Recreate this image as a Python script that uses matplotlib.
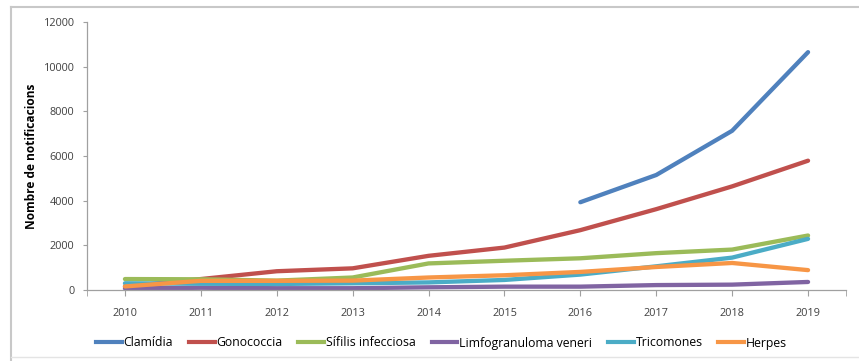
import numpy as np
import matplotlib.pyplot as plt
from matplotlib.lines import Line2D

# ____________________________________________________________
# data

years = [2010, 2011, 2012, 2013, 2014, 2015, 2016, 2017, 2018, 2019]
clamidia = [np.nan, np.nan, np.nan, np.nan, np.nan, np.nan, 3930, 5150, 7130, 10650]
gonococcia = [150, 490, 840, 970, 1530, 1900, 2680, 3620, 4640, 5790]
sifilis = [490, 480, 420, 560, 1190, 1310, 1420, 1650, 1810, 2440]
limfogranuloma = [70, 100, 80, 80, 120, 150, 150, 220, 240, 360]
tricomones = [300, 280, 270, 300, 340, 450, 690, 1060, 1450, 2290]
herpes = [160, 410, 410, 420, 560, 660, 810, 1030, 1210, 890]

labels = ['Clamídia', 'Gonococcia', 'Sífilis infecciosa',
          'Limfogranuloma veneri', 'Tricomones', 'Herpes']
colors = ['#4F81BD', '#C0504D', '#9BBB59', '#8064A2', '#4BACC6', '#F79646']
series = [clamidia, gonococcia, sifilis, limfogranuloma, tricomones, herpes]

# ____________________________________________________________
# plot

plt.rcParams['font.family'] = ['Open Sans', 'DejaVu Sans']

fig = plt.figure(figsize=(8.59, 3.61), dpi=100)
ax = fig.add_axes([87 / 859, 1 - 290 / 361, (846 - 87) / 859, (290 - 22) / 361])

for vals, col in zip(series, colors):
    ax.plot(years, vals, color=col, lw=3.1, solid_capstyle='round', solid_joinstyle='round')

ax.set_xlim(2009.5, 2019.5)
ax.set_ylim(0, 12000)
ax.set_xticks(years)
ax.set_xticks([2009.5, 2019.5], minor=True)
ax.set_yticks(range(0, 12001, 2000))
ax.tick_params(axis='both', labelsize=7.8, colors='#404040', length=3, width=0.8)
ax.tick_params(axis='x', which='both', length=4, color='#a0a0a0', pad=9)
ax.tick_params(axis='y', color='#a0a0a0', pad=6)

for s in ['top', 'right']:
    ax.spines[s].set_visible(False)
for s in ['left', 'bottom']:
    ax.spines[s].set_color('#a0a0a0')
    ax.spines[s].set_linewidth(0.9)

ax.set_ylabel('Nombre de notificacions', fontsize=8.6, fontweight='bold', labelpad=4)

handles = [Line2D([0], [0], color=c, lw=3) for c in colors]
fig.legend(handles, labels, loc='center left', bbox_to_anchor=(96 / 859, 1 - 343 / 361), ncol=6,
           frameon=False, fontsize=8.8, handlelength=2.1, handletextpad=0.15, columnspacing=1.3,
           borderaxespad=0, borderpad=0)

# outer frame of the chart
fig.add_artist(Line2D([11 / 859, 1], [1 - 7 / 361, 1 - 7 / 361], color='#c8c8c8', lw=1.5))
fig.add_artist(Line2D([11 / 859, 11 / 859], [0, 1 - 7 / 361], color='#c8c8c8', lw=1.5))
fig.add_artist(Line2D([11 / 859, 1], [1 - 357 / 361, 1 - 357 / 361], color='#e4e4e4', lw=1))

fig.savefig('out.png', dpi=100)
